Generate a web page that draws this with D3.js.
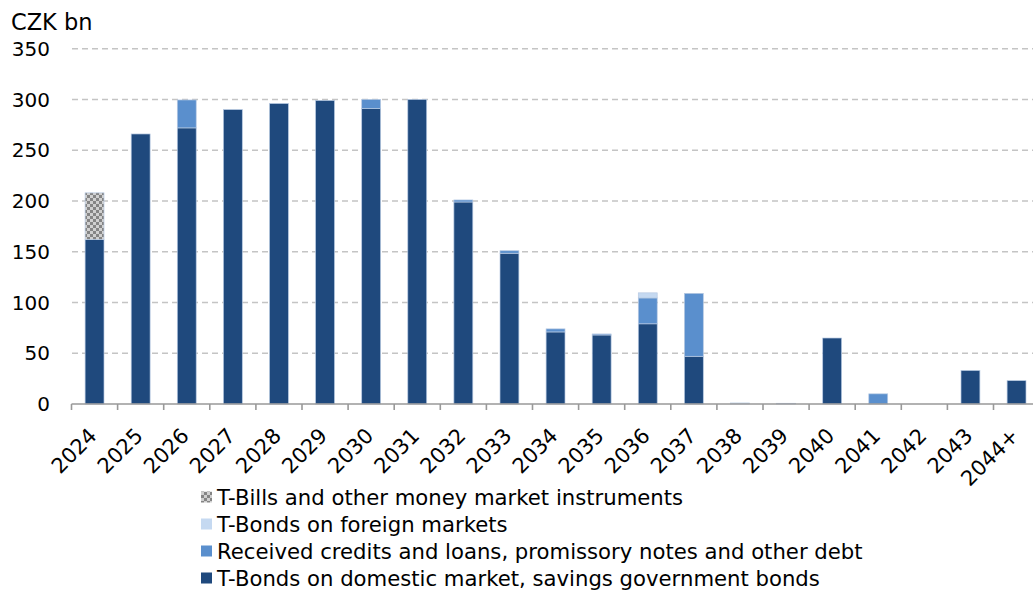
<!DOCTYPE html>
<html><head><meta charset="utf-8">
<script src="https://cdn.jsdelivr.net/npm/d3@7"></script>
<style>body{margin:0;background:#fff}svg{display:block}text{font-family:"DejaVu Sans",Verdana,sans-serif;fill:#000}</style>
</head><body><svg id="c" width="1033" height="591"></svg>
<script>
const categories = ["2024","2025","2026","2027","2028","2029","2030","2031","2032","2033","2034","2035","2036","2037","2038","2039","2040","2041","2042","2043","2044+"];
const domestic = [162,266,272,290,296,299,291,300,199,148.5,71,68,79,47,0,0.7,65,0,0,33,23];
const loans    = [0,0,27.5,0,0,0,9,0,2,2.5,3,1,25.5,62,0,0,0,10,0,0,0];
const foreign  = [0,0,0,0,0,0,0,0,0,0,0,0,5,0,1,0,0,0,0,0,0];
const tbills   = [46,0,0,0,0,0,0,0,0,0,0,0,0,0,0,0,0,0,0,0,0];
const yTicks = [0,50,100,150,200,250,300,350];
const seriesNames = ["T-Bills and other money market instruments","T-Bonds on foreign markets","Received credits and loans, promissory notes and other debt","T-Bonds on domestic market, savings government bonds"];

const svg = d3.select("#c");
const defs = svg.append("defs");
const pat = defs.append("pattern").attr("id","chk").attr("width",6).attr("height",6).attr("patternUnits","userSpaceOnUse");
pat.append("rect").attr("width",6).attr("height",6).attr("fill","#d0d0d0");
pat.append("rect").attr("width",3).attr("height",3).attr("fill","#858585");
pat.append("rect").attr("x",3).attr("y",3).attr("width",3).attr("height",3).attr("fill","#858585");

const colors = {domestic:"#1f497d", loans:"#5a8fcd", foreign:"#c5d9f1", tbills:"url(#chk)"};
const bw = 46.1;
const x0 = 71.5;
const x = d3.scaleBand().domain(categories).range([x0, x0+bw*categories.length]).paddingInner(0.59).paddingOuter(0.295);
const xb = d3.scaleBand().domain(categories).range([x0, x0+bw*categories.length]);
const y = d3.scaleLinear().domain([0,350]).range([404,48.7]);

// gridlines
svg.append("g").selectAll("line").data(yTicks.filter(d=>d>0)).join("line")
  .attr("x1",72).attr("x2",1033).attr("y1",d=>y(d)).attr("y2",d=>y(d))
  .attr("stroke","#c4c4c4").attr("stroke-width",1.6).attr("stroke-dasharray","6,4");

// y labels
svg.append("g").selectAll("text").data(yTicks).join("text")
  .attr("x",50).attr("y",d=>y(d)).attr("dy","0.36em").attr("text-anchor","end")
  .style("font-size","20px").text(d=>d);
svg.append("text").attr("x",11).attr("y",30).style("font-size","22.5px").text("CZK bn");

// stacked bars
const keys = ["domestic","loans","foreign","tbills"];
const rows = categories.map((c,i)=>({cat:c,domestic:domestic[i],loans:loans[i],foreign:foreign[i],tbills:tbills[i]}));
const stack = d3.stack().keys(keys)(rows);
svg.append("g").selectAll("g").data(stack).join("g")
  .attr("fill",d=>colors[d.key])
  .selectAll("rect").data(d=>d.filter(p=>p[1]-p[0]>0)).join("rect")
  .attr("x",d=>x(d.data.cat)).attr("width",x.bandwidth())
  .attr("y",d=>y(d[1])).attr("height",d=>y(d[0])-y(d[1]))
  .attr("stroke","#b7c9e2").attr("stroke-width",0.7);

// x axis
const ax = svg.append("g");
ax.append("line").attr("x1",71.5).attr("x2",1033).attr("y1",404).attr("y2",404).attr("stroke","#999").attr("stroke-width",1.6);
const bounds = categories.map(c=>xb(c));
ax.selectAll("line.t").data(bounds).join("line").attr("class","t")
  .attr("x1",d=>d).attr("x2",d=>d).attr("y1",404).attr("y2",410).attr("stroke","#999").attr("stroke-width",1.6);
ax.selectAll("text").data(categories).join("text")
  .attr("transform",c=>`translate(${xb(c)+xb.bandwidth()/2+3.5},${437}) rotate(-45)`)
  .attr("text-anchor","end").style("font-size","21px").text(c=>c);

// legend
const lg = svg.append("g");
const lfill = [colors.tbills,colors.foreign,colors.loans,colors.domestic];
seriesNames.forEach((n,i)=>{
  const cy = 497 + i*27;
  lg.append("rect").attr("x",201).attr("y",cy-5.5).attr("width",11).attr("height",11).attr("fill",lfill[i]);
  lg.append("text").attr("x",217).attr("y",cy).attr("dy","0.36em").style("font-size","21.2px").text(n);
});
</script></body></html>
